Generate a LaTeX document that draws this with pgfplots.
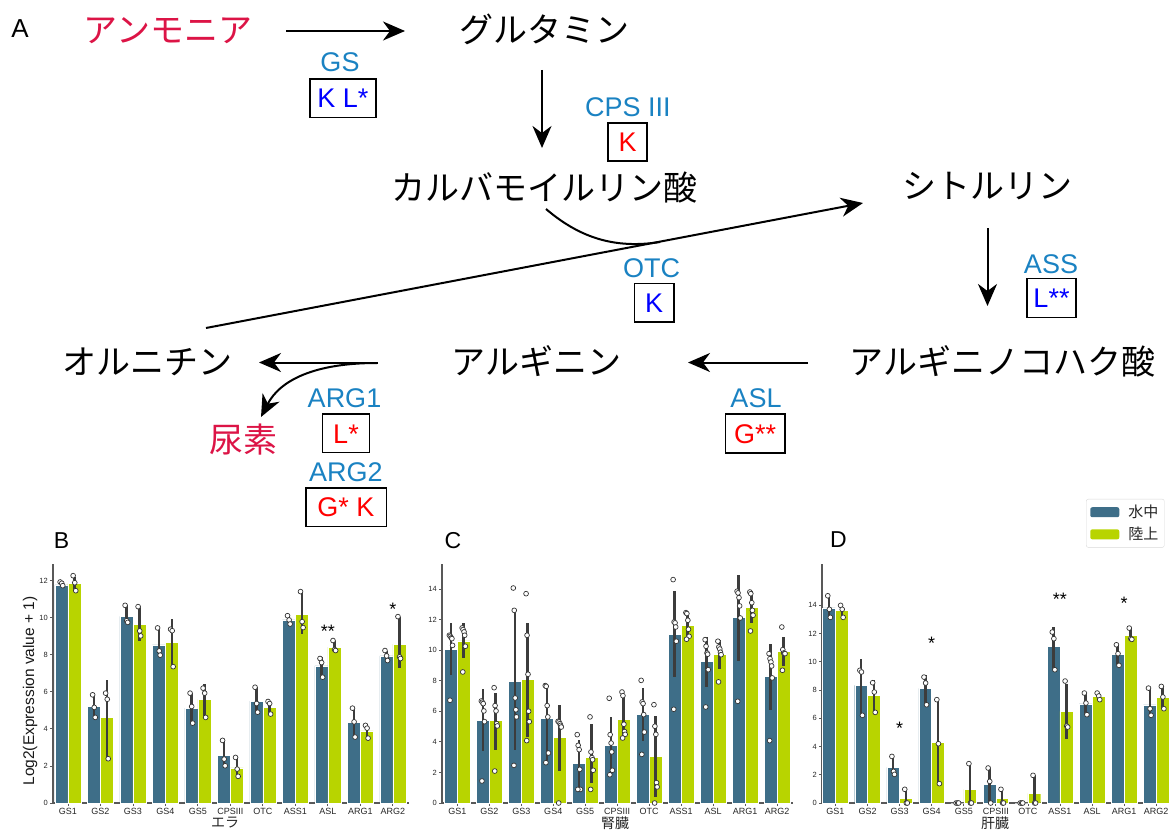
\documentclass[border=0pt]{standalone}
\usepackage{pgfplots}
\pgfplotsset{compat=1.18}
\usepackage{pgfplotstable}
\usepackage{fontspec}
\setmainfont{Liberation Sans}
\newfontfamily\cjk{Noto Sans CJK JP}
\usetikzlibrary{arrows.meta}

\definecolor{bblue}{HTML}{3E6E88}
\definecolor{bgreen}{HTML}{B8D400}
\definecolor{crim}{HTML}{DC1446}
\definecolor{enz}{HTML}{1A82C2}
\definecolor{kblue}{HTML}{0000FF}
\definecolor{kred}{HTML}{FF0000}
\definecolor{errc}{HTML}{3C3C3C}

\pgfplotstableread{
i bm blo bhi gm glo ghi
0 11.77 11.72 11.93 11.86 11.46 12.20
1 5.21 4.62 5.84 4.63 2.39 6.65
2 10.08 9.75 10.67 9.63 8.77 10.60
3 8.53 7.98 9.45 8.69 7.36 9.92
4 5.12 4.31 5.93 5.59 4.62 6.43
5 2.59 2.01 3.38 1.89 1.44 2.46
6 5.50 4.90 6.25 5.17 4.80 5.50
7 9.88 9.66 10.11 10.19 9.13 11.41
8 7.40 6.79 7.90 8.42 8.23 8.77
9 4.35 3.56 5.12 3.90 3.50 4.20
10 7.94 7.69 8.23 8.57 7.26 10.06
}\tabB

\pgfplotstableread{
i bm blo bhi gm glo ghi
0 10.05 8.35 11.78 10.60 9.50 11.80
1 5.41 3.38 7.48 5.41 3.49 7.22
2 7.96 3.45 12.60 8.07 4.30 11.80
3 5.54 2.62 7.70 4.30 2.10 6.43
4 2.60 0.94 4.14 2.99 1.31 5.15
5 3.77 2.25 5.63 5.47 4.37 6.90
6 5.78 4.06 7.52 3.05 0.39 5.72
7 11.03 8.24 13.87 11.62 10.68 12.50
8 9.27 7.59 10.86 9.73 8.74 10.68
9 12.15 9.29 14.90 12.78 11.78 13.87
10 8.29 6.06 10.42 9.92 8.96 10.86
}\tabC

\pgfplotstableread{
i bm blo bhi gm glo ghi
0 13.83 13.15 14.68 13.65 13.15 14.00
1 8.33 6.21 10.20 7.63 6.42 8.70
2 2.53 2.03 3.30 0.33 0.00 0.97
3 8.12 6.96 9.10 4.30 1.37 7.32
4 0.00 0.00 0.00 0.97 0.00 2.79
5 1.32 0.00 2.48 0.33 0.00 0.97
6 0.00 0.00 0.00 0.68 0.00 1.96
7 11.10 9.44 12.50 6.49 4.55 8.40
8 7.03 6.26 7.79 7.55 7.32 7.79
9 10.53 9.75 11.21 11.87 11.59 12.39
10 6.96 6.21 8.14 7.48 6.68 8.26
}\tabD

\pgfplotsset{
  panel/.style={
    scale only axis, height=239pt, ymin=0,
    axis x line*=bottom, axis y line*=left,
    xtick={0,...,10},
    xticklabels={GS1,GS2,GS3,GS4,GS5,CPSIII,OTC,ASS1,ASL,ARG1,ARG2},
    tick align=outside, major tick length=3pt,
    /pgf/number format/assume math mode=true,
    x tick label style={font=\fontsize{9}{10}\selectfont, text=black!85, inner sep=2pt},
    y tick label style={font=\fontsize{7.5}{9}\selectfont, text=black!85, inner sep=2pt},
    axis line style={black!65, line width=1.2pt},
    tick style={black!65, line width=0.8pt},
    clip=false,
  },
  bluebar/.style={ybar, bar width=0.4, bar shift=-0.2, fill=bblue, draw=white, line width=0.4pt},
  greenbar/.style={ybar, bar width=0.4, bar shift=0.2, fill=bgreen, draw=white, line width=0.4pt},
  errs/.style={forget plot, draw=none, mark=none,
    error bars/.cd, y dir=both, y explicit, error mark=none,
    error bar style={draw=errc, line width=2.5pt, solid}},
  pts/.style={only marks, mark=*, mark size=2.4pt, forget plot,
    mark options={fill=white, draw=black!80, line width=0.7pt}},
}

\newcommand\panelbars[1]{%
\addplot[bluebar] table[x=i, y=bm] {#1};
\addplot[greenbar] table[x=i, y=gm] {#1};
\addplot[errs] table[x expr=\thisrow{i}-0.2, y=bm, y error plus expr=\thisrow{bhi}-\thisrow{bm}, y error minus expr=\thisrow{bm}-\thisrow{blo}] {#1};
\addplot[errs] table[x expr=\thisrow{i}+0.2, y=gm, y error plus expr=\thisrow{ghi}-\thisrow{gm}, y error minus expr=\thisrow{gm}-\thisrow{glo}] {#1};
}

\begin{document}
\begin{tikzpicture}
\path[use as bounding box] (0pt,0pt) rectangle (1170pt,-832pt);

\begin{scope}[x=1pt,y=-1pt,
  jp/.style={font=\cjk\fontsize{34}{40}\selectfont, inner sep=0pt, anchor=base},
  en/.style={font=\fontsize{27}{31}\selectfont, inner sep=0pt, anchor=base, text=enz},
  bx/.style={font=\fontsize{27}{31}\selectfont, inner sep=0pt, anchor=base},
  arr/.style={line width=2pt, -{Stealth[length=22pt, width=19pt, inset=7pt]}},
  box/.style={draw=black, line width=1.2pt}]
\node[font=\fontsize{26}{30}\selectfont, inner sep=0pt, anchor=base] at (20,37.5) {A};
% metabolites
\node[jp, text=crim] at (168,42.5) {アンモニア};
\node[jp] at (544,42.5) {グルタミン};
\node[jp] at (544.5,200.5) {カルバモイルリン酸};
\node[jp] at (987.5,198.5) {シトルリン};
\node[jp] at (147,374.5) {オルニチン};
\node[jp] at (536.5,374.5) {アルギニン};
\node[jp] at (1002.5,374.5) {アルギニノコハク酸};
\node[jp, text=crim] at (243,452.5) {尿素};
% arrows
\draw[arr] (286,31) -- (405,31);
\draw[arr] (542,70) -- (542,148);
\draw[line width=2pt] (546,209) .. controls (580,238) and (615,249) .. (660,242);
\draw[arr] (206,328) -- (863,203);
\draw[arr] (987.5,228) -- (987.5,306);
\draw[arr] (808,362.5) -- (688,362.5);
\draw[arr] (378,362.5) -- (259,362.5);
\draw[arr] (377,363) .. controls (315,363) and (280,380) .. (261,417);
% enzymes
\node[en] at (340,71.5) {GS};
\draw[box] (310,79) rectangle (376,117.5);
\node[bx, text=kblue] at (343,107.7) {K L*};
\node[en] at (628,116.7) {CPS III};
\draw[box] (608,123) rectangle (647,161);
\node[bx, text=kred] at (627.5,151.7) {K};
\node[en] at (651.5,277.7) {OTC};
\draw[box] (634.6,283.5) rectangle (674,322);
\node[bx, text=kblue] at (654,312.5) {K};
\node[en] at (1051,273.7) {ASS};
\draw[box] (1027,278.5) rectangle (1076,317.5);
\node[bx, text=kblue] at (1051.5,307.7) {L**};
\node[en] at (756,407.2) {ASL};
\draw[box] (725.5,414) rectangle (785,453);
\node[bx, text=kred] at (755,443.5) {G**};
\node[en] at (344.5,407.7) {ARG1};
\draw[box] (322.5,414) rectangle (369.5,452.5);
\node[bx, text=kred] at (346,443) {L*};
\node[en] at (346,481.2) {ARG2};
\draw[box] (306,488) rectangle (386.5,526.5);
\node[bx, text=kred] at (346,516.7) {G* K};
% panel letters and labels
\node[font=\fontsize{23}{27}\selectfont, inner sep=0pt, anchor=base] at (61.5,548) {B};
\node[font=\fontsize{23}{27}\selectfont, inner sep=0pt, anchor=base] at (453,548) {C};
\node[font=\fontsize{23}{27}\selectfont, inner sep=0pt, anchor=base] at (838.5,547) {D};
\node[font=\fontsize{15.5}{18}\selectfont, text=black!90, rotate=90] at (30,691) {Log2(Expression value + 1)};
\node[font=\cjk\fontsize{14}{16}\selectfont, text=black!85] at (225,823) {エラ};
\node[font=\cjk\fontsize{14}{16}\selectfont, text=black!85] at (615,823) {腎臓};
\node[font=\cjk\fontsize{14}{16}\selectfont, text=black!85] at (995,823) {肝臓};
\end{scope}

% ---------------- B ----------------
\begin{axis}[panel, at={(53pt,-803pt)}, anchor=south west, width=356pt,
  xmin=-0.46, xmax=10.5, ymax=12.9, ytick={0,2,...,12}]
\panelbars{\tabB}
\addplot[pts] coordinates {
(-0.24,11.93) (-0.19,11.86) (-0.16,11.73)
(0.76,5.84) (0.81,5.16) (0.84,4.62)
(1.76,10.67) (1.81,9.84) (1.84,9.75)
(2.76,9.45) (2.81,8.21) (2.84,7.98)
(3.76,5.93) (3.81,5.21) (3.84,4.31)
(4.76,3.38) (4.81,2.37) (4.84,2.01)
(5.76,6.25) (5.81,5.37) (5.84,4.9)
(6.76,10.11) (6.81,9.88) (6.84,9.66)
(7.76,7.8) (7.81,7.58) (7.84,6.79)
(8.76,5.12) (8.81,4.38) (8.84,3.56)
(9.76,8.23) (9.81,7.94) (9.84,7.69)
(0.16,12.27) (0.21,11.89) (0.24,11.46)
(1.16,5.93) (1.21,5.6) (1.24,2.39)
(2.16,10.6) (2.21,9.29) (2.24,9.02)
(3.16,9.38) (3.21,9.3) (3.24,7.36)
(4.16,6.2) (4.21,5.93) (4.24,4.62)
(5.16,2.46) (5.21,1.83) (5.24,1.44)
(6.16,5.48) (6.21,5.37) (6.24,4.8)
(7.16,11.41) (7.21,9.79) (7.24,9.47)
(8.16,8.77) (8.21,8.28) (8.24,8.23)
(9.16,4.19) (9.21,4.04) (9.24,3.5)
(10.16,10.06) (10.21,7.89) (10.24,7.8)
};
\node[font=\fontsize{18}{20}\selectfont, anchor=base, inner sep=0pt, yshift=-10.5pt] at (axis cs:8,9.52) {**};
\node[font=\fontsize{18}{20}\selectfont, anchor=base, inner sep=0pt, yshift=-10.5pt] at (axis cs:10,10.7) {*};
\end{axis}

% ---------------- C ----------------
\begin{axis}[panel, at={(442pt,-803pt)}, anchor=south west, width=351pt,
  xmin=-0.48, xmax=10.5, ymax=15.63, ytick={0,2,...,14}]
\panelbars{\tabC}
\addplot[pts] coordinates {
(-0.25,10.97) (-0.22,10.9) (-0.19,10.8) (-0.17,10.75) (-0.15,10.31) (-0.23,6.72)
(0.75,6.67) (0.78,6.59) (0.81,6.5) (0.83,6.02) (0.85,5.32) (0.77,1.44)
(1.75,14.06) (1.78,12.6) (1.81,6.87) (1.83,6.1) (1.85,5.63) (1.77,2.46)
(2.75,7.68) (2.78,7.63) (2.81,6.37) (2.83,5.63) (2.85,3.27) (2.77,2.64)
(3.75,4.47) (3.78,3.77) (3.81,3.49) (3.83,2.2) (3.85,0.89) (3.77,0.89)
(4.75,6.85) (4.78,4.47) (4.81,3.92) (4.83,3.34) (4.85,2.14) (4.77,1.85)
(5.75,8.02) (5.78,6.61) (5.81,6.5) (5.83,5.78) (5.85,4.64) (5.77,3.18)
(6.75,14.61) (6.78,11.84) (6.81,11.78) (6.83,11.51) (6.85,10.58) (6.77,6.13)
(7.75,10.68) (7.78,10.25) (7.81,9.81) (7.83,9.73) (7.85,8.72) (7.77,6.28)
(8.75,13.85) (8.78,13.74) (8.81,13.43) (8.83,12.89) (8.85,12.1) (8.77,6.65)
(9.75,9.77) (9.78,9.44) (9.81,9.22) (9.83,8.96) (9.85,8.18) (9.77,4.08)
(0.15,11.45) (0.18,11.34) (0.21,11.19) (0.23,10.97) (0.25,10.25) (0.17,8.57)
(1.15,7.54) (1.18,6.37) (1.21,6.02) (1.23,5.19) (1.25,5.04) (1.17,2.09)
(2.15,13.69) (2.18,10.97) (2.21,8.42) (2.23,6.0) (2.25,5.32) (2.17,4.08)
(3.15,5.34) (3.18,5.3) (3.21,5.19) (3.23,5.08) (3.25,4.97) (3.17,0)
(4.15,5.63) (4.18,3.34) (4.21,2.97) (4.23,2.83) (4.25,2.14) (4.17,0.89)
(5.15,7.26) (5.18,7.02) (5.21,5.15) (5.23,4.67) (5.25,4.49) (5.17,4.25)
(6.15,6.43) (6.18,5.02) (6.21,4.49) (6.23,1.33) (6.25,1.05) (6.17,0)
(7.15,12.45) (7.18,12.39) (7.21,11.95) (7.23,11.36) (7.25,10.9) (7.17,10.71)
(8.15,10.58) (8.18,10.2) (8.21,10.07) (8.23,9.86) (8.25,9.7) (8.17,7.92)
(9.15,13.8) (9.18,13.69) (9.21,13.1) (9.23,12.6) (9.25,12.28) (9.17,11.25)
(10.15,11.51) (10.18,10.03) (10.21,9.81) (10.23,9.77) (10.25,9.77) (10.17,8.68)
};
\end{axis}

% ---------------- D ----------------
\begin{axis}[panel, at={(822pt,-803pt)}, anchor=south west, width=347pt,
  xmin=-0.42, xmax=10.4, ymax=16.93, ytick={0,2,...,14},
  legend style={at={(0.761,1.272)}, anchor=north west, draw=black!15, fill=white,
    rounded corners=2pt, font=\cjk\fontsize{15}{17}\selectfont, text=black!85,
    inner xsep=4pt, inner ysep=4pt, row sep=4pt,
    /tikz/every odd column/.append style={column sep=7pt}},
  legend cell align=left,
  legend image code/.code={\fill[#1, draw=none] (0pt,-5pt) rectangle (29pt,5pt);}]
\panelbars{\tabD}
\addlegendentry{水中}
\addlegendentry{陸上}
\addplot[pts] coordinates {
(-0.24,14.68) (-0.19,13.72) (-0.16,13.15)
(0.76,9.4) (0.81,9.28) (0.84,6.21)
(1.76,3.3) (1.81,2.24) (1.84,2.03)
(2.76,8.92) (2.81,8.5) (2.84,6.96)
(3.76,0) (3.81,0) (3.84,0)
(4.76,2.48) (4.81,1.53) (4.84,0)
(5.76,0) (5.81,0) (5.84,0)
(6.76,12.11) (6.81,11.64) (6.84,9.44)
(7.76,7.79) (7.81,7.08) (7.84,6.26)
(8.76,11.21) (8.81,10.58) (8.84,9.75)
(9.76,8.14) (9.81,6.68) (9.84,6.21)
(0.16,14.0) (0.21,13.72) (0.24,13.15)
(1.16,8.52) (1.21,7.86) (1.24,6.42)
(2.16,0.97) (2.21,0) (2.24,0)
(3.16,7.32) (3.21,4.2) (3.24,1.37)
(4.16,2.79) (4.21,0) (4.24,0)
(5.16,0.97) (5.21,0) (5.24,0)
(6.16,1.96) (6.21,0) (6.24,0)
(7.16,8.64) (7.21,5.45) (7.24,5.38)
(8.16,7.79) (8.21,7.58) (8.24,7.32)
(9.16,12.39) (9.21,11.64) (9.24,11.59)
(10.16,8.26) (10.21,7.51) (10.24,6.68)
};
\node[font=\fontsize{18}{20}\selectfont, anchor=base, inner sep=0pt, yshift=-10.5pt] at (axis cs:2,5.6) {*};
\node[font=\fontsize{18}{20}\selectfont, anchor=base, inner sep=0pt, yshift=-10.5pt] at (axis cs:3,11.6) {*};
\node[font=\fontsize{18}{20}\selectfont, anchor=base, inner sep=0pt, yshift=-10.5pt] at (axis cs:7,14.75) {**};
\node[font=\fontsize{18}{20}\selectfont, anchor=base, inner sep=0pt, yshift=-10.5pt] at (axis cs:9,14.47) {*};
\end{axis}
\end{tikzpicture}
\end{document}
